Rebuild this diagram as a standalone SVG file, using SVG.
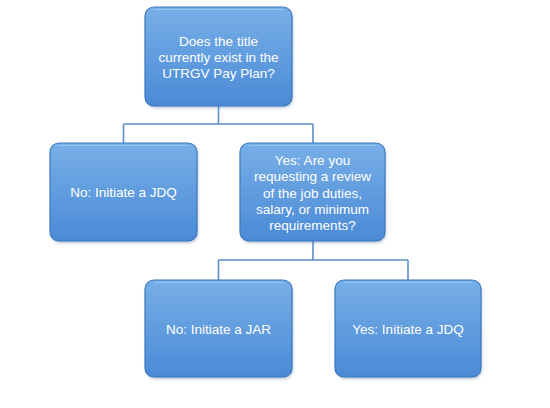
<svg xmlns="http://www.w3.org/2000/svg" width="550" height="408" viewBox="0 0 550 408">
<defs>
<linearGradient id="fill" x1="0" y1="0" x2="0" y2="1">
<stop offset="0" stop-color="#78afe7"/>
<stop offset="1" stop-color="#4a8ad6"/>
</linearGradient>
<linearGradient id="hl" x1="0" y1="0" x2="0" y2="1">
<stop offset="0" stop-color="#d2ecfd" stop-opacity="0.7"/>
<stop offset="0.5" stop-color="#e2f4ff" stop-opacity="1"/>
<stop offset="1" stop-color="#b4dcf8" stop-opacity="0.8"/>
</linearGradient>
<filter id="sh" x="-10%" y="-10%" width="120%" height="130%">
<feGaussianBlur stdDeviation="1.5"/>
</filter>
</defs>
<style>
.bx{fill:url(#fill);stroke:#3c78bd;stroke-width:1.2}
.shd{fill:#5a7fa8;opacity:0.45;filter:url(#sh)}
.hl{stroke:url(#hl);stroke-width:2.6;stroke-linecap:round;fill:none}
.hr{stroke:url(#hl);stroke-width:2;stroke-linecap:round;fill:none;opacity:0.75}
.tp{stroke:#a8d0f3;stroke-width:1;fill:none;opacity:0.7}
.t{font-family:"Liberation Sans",Arial,sans-serif;font-size:13.5px;fill:#ffffff;text-anchor:middle}
.c{stroke:#5d8fc8;stroke-width:1.6;fill:none}
</style>
<rect width="550" height="408" fill="#ffffff"/>
<g id="connectors">
<path class="c" d="M218.5 106 V124 M123.5 124 H313 M123.5 124 V143 M313 124 V143"/>
<path class="c" d="M313 240 V260 M218.5 260 H408 M218.5 260 V280 M408 260 V280"/>
</g>
<g id="n1">
<rect class="shd" x="146" y="9" width="147" height="99" rx="9"/>
<rect class="bx" x="145" y="7" width="147" height="99" rx="9"/>
<path class="tp" d="M154 9.5 H283"/>
<path class="hl" d="M149.5 16 V97"/>
<path class="hr" d="M287.5 16 V97"/>
<text class="t"><tspan x="218.5" y="45.5">Does the title</tspan><tspan x="218.5" y="61.5">currently exist in the</tspan><tspan x="218.5" y="77.5">UTRGV Pay Plan?</tspan></text>
</g>
<g id="n2">
<rect class="shd" x="51" y="145" width="147" height="98" rx="9"/>
<rect class="bx" x="50" y="143" width="147" height="98" rx="9"/>
<path class="tp" d="M59 145.5 H188"/>
<path class="hl" d="M54.5 152 V232"/>
<path class="hr" d="M192.5 152 V232"/>
<text class="t" x="123.5" y="196.5">No: Initiate a JDQ</text>
</g>
<g id="n3">
<rect class="shd" x="241" y="145" width="145" height="98" rx="9"/>
<rect class="bx" x="240" y="143" width="145" height="98" rx="9"/>
<path class="tp" d="M249 145.5 H376"/>
<path class="hl" d="M244.5 152 V232"/>
<path class="hr" d="M380.5 152 V232"/>
<text class="t"><tspan x="312.5" y="165">Yes: Are you</tspan><tspan x="312.5" y="181.3">requesting a review</tspan><tspan x="312.5" y="197.6">of the job duties,</tspan><tspan x="312.5" y="213.9">salary, or minimum</tspan><tspan x="312.5" y="230.2">requirements?</tspan></text>
</g>
<g id="n4">
<rect class="shd" x="146" y="282" width="147" height="97" rx="9"/>
<rect class="bx" x="145" y="280" width="147" height="97" rx="9"/>
<path class="tp" d="M154 282.5 H283"/>
<path class="hl" d="M149.5 289 V368"/>
<path class="hr" d="M287.5 289 V368"/>
<text class="t" x="218.5" y="333.5">No: Initiate a JAR</text>
</g>
<g id="n5">
<rect class="shd" x="336" y="282" width="146" height="97" rx="9"/>
<rect class="bx" x="335" y="280" width="146" height="97" rx="9"/>
<path class="tp" d="M344 282.5 H472"/>
<path class="hl" d="M339.5 289 V368"/>
<path class="hr" d="M476.5 289 V368"/>
<text class="t" x="408" y="333.5">Yes: Initiate a JDQ</text>
</g>
</svg>
